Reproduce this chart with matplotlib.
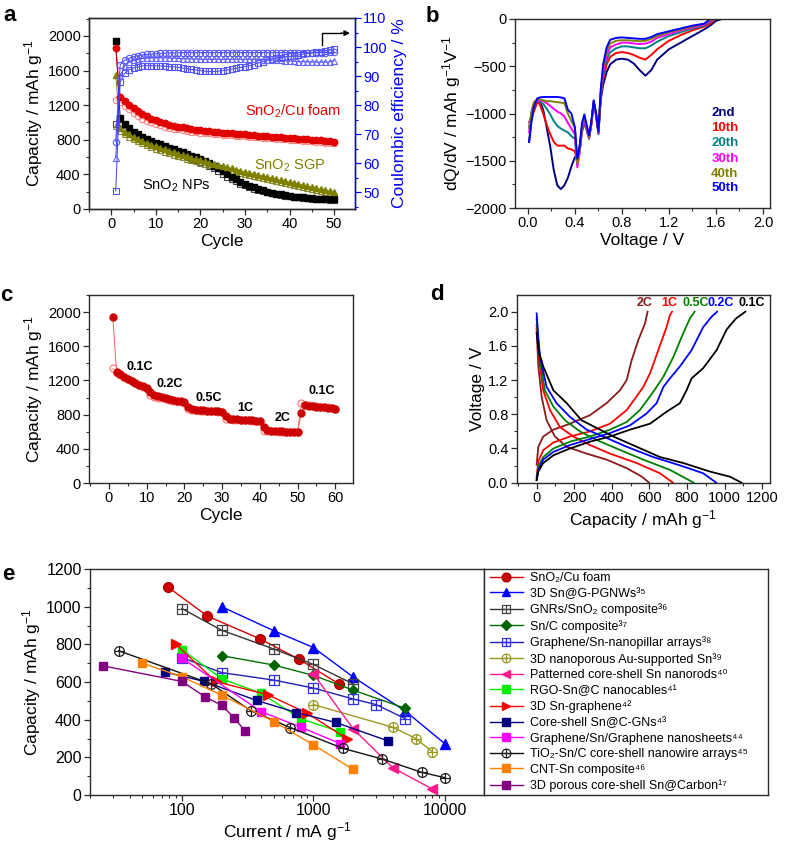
import matplotlib
matplotlib.use('Agg')
import matplotlib.pyplot as plt
from matplotlib.ticker import MultipleLocator, FixedLocator, FormatStrFormatter, NullFormatter, LogLocator, FixedFormatter
from matplotlib.path import Path

plt.rcParams['font.family'] = ['Liberation Sans', 'DejaVu Sans']
plt.rcParams['mathtext.default'] = 'regular'

# ---------------- Panel a data ----------------
cycles_a = list(range(1, 51))
cu_dis = [1860,1290,1245,1205,1165,1130,1100,1070,1045,1025,1005,990,975,963,952,942,933,925,918,911,
          905,899,893,888,883,878,873,869,865,861,857,853,849,845,841,837,833,829,825,821,
          817,813,809,805,801,797,793,788,782,772]
cu_ch = [1260,1235,1190,1150,1110,1075,1045,1020,1000,982,966,952,940,929,919,910,902,895,889,883,
         878,873,868,864,860,856,852,848,844,840,836,832,828,824,820,816,812,808,804,800,
         796,792,788,784,780,776,772,768,764,758]
nps_dis = [1940,1050,985,935,895,862,833,808,786,766,746,727,708,690,672,654,636,617,598,578,
           556,530,500,468,435,403,372,343,316,292,270,250,232,216,202,189,178,168,159,151,
           144,138,133,128,124,120,117,114,112,110]
nps_ch = [980,965,925,885,850,820,795,772,751,731,711,692,673,655,637,619,601,582,563,543,
          522,497,468,437,405,375,346,319,294,272,252,234,218,204,191,180,170,161,153,146,
          139,133,128,124,120,116,113,110,108,106]
sgp_dis = [1550,935,895,862,833,808,786,765,745,726,708,690,673,656,640,624,608,593,578,563,
           549,535,521,507,494,481,468,455,442,430,418,406,394,382,370,358,346,334,322,310,
           298,287,275,264,252,241,229,218,206,195]
sgp_ch = [960,905,868,835,806,781,759,738,718,699,681,663,646,629,613,597,581,566,551,536,
          522,508,494,480,467,454,441,428,415,403,391,379,367,355,343,331,319,307,296,284,
          272,261,249,238,226,215,203,192,180,170]
ce_cu = [67.5,94.0,95.5,96.2,96.7,97.0,97.3,97.5,97.6,97.7,97.8,97.9,98.0,98.0,98.0,98.1,98.1,98.1,98.1,98.1,
         98.1,98.1,98.1,98.1,98.1,98.1,98.1,98.1,98.1,98.1,98.1,98.1,98.1,98.1,98.1,98.1,98.1,98.1,98.1,98.1,
         98.1,98.1,98.1,98.1,98.1,98.1,98.1,98.1,98.2,98.3]
ce_nps = [50.5,88.0,91.0,92.2,92.8,93.2,93.5,93.6,93.6,93.6,93.5,93.4,93.3,93.2,93.0,92.8,92.6,92.3,92.1,91.9,
          91.7,91.6,91.6,91.7,91.9,92.1,92.4,92.7,93.0,93.3,93.6,94.0,94.5,95.0,95.5,95.9,96.2,96.4,96.6,96.8,
          97.0,97.3,97.6,97.8,98.0,98.2,98.3,98.6,99.0,99.3]
ce_sgp = [62.0,90.0,93.5,94.8,95.5,95.9,96.1,96.2,96.3,96.3,96.3,96.3,96.2,96.2,96.1,96.0,96.0,95.9,95.9,95.8,
          95.8,95.8,95.8,95.8,95.8,95.8,95.8,95.8,95.8,95.8,95.8,95.8,95.8,95.7,95.7,95.6,95.5,95.4,95.3,95.2,
          95.1,95.0,95.0,94.9,94.9,94.8,94.8,94.8,95.0,95.3]

# ---------------- Panel b data ----------------
volt_b = [0.01,0.03,0.05,0.08,0.10,0.13,0.16,0.19,0.22,0.25,0.28,0.31,0.34,0.37,0.40,0.42,
          0.44,0.46,0.48,0.50,0.52,0.54,0.56,0.58,0.60,0.62,0.64,0.67,0.70,0.75,
          0.80,0.85,0.90,0.95,1.00,1.05,1.10,1.20,1.30,1.40,1.50,1.55,1.60,1.65,1.80,1.95]
dqdv_2nd = [-1300,-1080,-950,-870,-870,-960,-1150,-1350,-1600,-1760,-1800,-1760,-1680,-1560,-1460,-1470,
            -1350,-1150,-1050,-1150,-1250,-1100,-880,-1000,-1200,-850,-700,-560,-480,-430,
            -420,-430,-470,-540,-600,-540,-430,-320,-250,-180,-110,-70,-20,0,0,0]
dqdv_10th = [-1090,-1050,-980,-880,-900,-1000,-1120,-1220,-1300,-1340,-1340,-1340,-1370,-1380,-1400,-1520,
             -1400,-1200,-1100,-1180,-1260,-1120,-880,-1020,-1210,-820,-640,-480,-400,-360,
             -350,-360,-380,-410,-430,-380,-320,-230,-170,-120,-80,-50,0,0,0,0]
dqdv_20th = [-1150,-1000,-900,-870,-870,-900,-950,-1010,-1080,-1130,-1160,-1180,-1200,-1240,-1270,-1540,
             -1400,-1170,-1080,-1170,-1270,-1110,-870,-1020,-1220,-800,-600,-430,-350,-310,
             -290,-290,-300,-310,-310,-280,-240,-180,-140,-100,-70,-30,0,0,0,0]
dqdv_30th = [-1200,-1000,-900,-870,-860,-870,-890,-920,-950,-980,-1000,-1030,-1100,-1160,-1220,-1570,
             -1420,-1150,-1060,-1160,-1260,-1100,-870,-1020,-1210,-780,-560,-380,-300,-270,
             -250,-250,-260,-265,-260,-240,-200,-160,-120,-90,-60,-20,0,0,0,0]
dqdv_40th = [-1150,-980,-880,-850,-850,-860,-870,-870,-875,-880,-885,-890,-1000,-1080,-1150,-1530,
             -1400,-1130,-1040,-1140,-1250,-1090,-870,-1010,-1200,-760,-520,-340,-260,-230,
             -225,-225,-230,-235,-230,-210,-180,-140,-110,-80,-50,-10,0,0,0,0]
dqdv_50th = [-1300,-1080,-930,-840,-830,-825,-825,-825,-825,-825,-830,-840,-960,-1000,-1150,-1480,
             -1350,-1100,-1010,-1120,-1230,-1080,-860,-1000,-1190,-740,-480,-300,-220,-200,
             -195,-200,-205,-210,-210,-190,-160,-130,-100,-70,-50,0,0,0,0,0]
b_labels = ['2nd', '10th', '20th', '30th', '40th', '50th']

# ---------------- Panel c data ----------------
cycles_c = list(range(1, 61))
rate_dis = [1940,1300,1272,1245,1222,1198,1175,1152,1130,1108, 1065,1035,1015,1002,990,980,970,962,955,945,
            890,862,856,852,849,846,843,840,837,830, 780,752,747,744,741,739,736,733,730,725,
            650,615,611,608,606,604,602,600,598,595, 823,910,905,900,895,890,885,880,875,862]
rate_ch = [1340,1290,1262,1236,1212,1190,1168,1147,1126,1105, 1030,1010,998,990,982,973,965,958,950,940,
           862,852,850,847,845,842,840,837,834,828, 745,744,742,740,738,736,733,731,728,722,
           613,607,605,603,601,599,597,596,594,592, 940,915,910,905,900,895,890,885,880,870]
rate_labels = ['0.1C', '0.2C', '0.5C', '1C', '2C', '0.1C']

# ---------------- Panel d data ----------------
d_rates = ['2C', '1C', '0.5C', '0.2C', '0.1C']
dis_cap_01 = [0, 10, 35, 89, 160, 239, 337, 408, 532, 656, 780, 922, 1028, 1090]
dis_v_01 = [1.75, 1.55, 1.36, 1.08, 0.93, 0.73, 0.62, 0.54, 0.42, 0.30, 0.23, 0.13, 0.07, 0.0]
dis_cap_02 = [0, 9, 18, 53, 106, 177, 266, 355, 479, 620, 780, 886, 955]
dis_v_02 = [1.98, 1.70, 1.47, 1.12, 0.93, 0.77, 0.62, 0.54, 0.42, 0.30, 0.19, 0.11, 0.0]
dis_cap_05 = [0, 9, 18, 44, 89, 151, 230, 319, 425, 567, 709, 835]
dis_v_05 = [1.92, 1.65, 1.43, 1.08, 0.89, 0.73, 0.60, 0.50, 0.40, 0.27, 0.15, 0.0]
dis_cap_1 = [0, 9, 18, 35, 71, 124, 195, 284, 390, 532, 656, 725]
dis_v_1 = [1.85, 1.55, 1.36, 1.08, 0.85, 0.65, 0.54, 0.44, 0.34, 0.23, 0.11, 0.0]
dis_cap_2 = [0, 5, 9, 27, 53, 97, 160, 266, 372, 479, 560, 598]
dis_v_2 = [1.80, 1.55, 1.36, 1.00, 0.73, 0.54, 0.42, 0.34, 0.27, 0.17, 0.07, 0.0]
ch_cap_01 = [0, 9, 35, 89, 177, 284, 390, 496, 603, 691, 762, 797, 824, 886, 957, 1010, 1060, 1110]
ch_v_01 = [0.03, 0.13, 0.23, 0.32, 0.40, 0.48, 0.54, 0.62, 0.69, 0.83, 0.93, 1.08, 1.22, 1.34, 1.55, 1.79, 1.92, 2.0]
ch_cap_02 = [0, 9, 35, 89, 177, 284, 390, 496, 585, 638, 674, 709, 762, 824, 886, 930, 960]
ch_v_02 = [0.03, 0.15, 0.27, 0.36, 0.44, 0.51, 0.58, 0.67, 0.81, 0.93, 1.12, 1.22, 1.36, 1.55, 1.82, 1.94, 2.0]
ch_cap_05 = [0, 9, 35, 89, 177, 284, 390, 479, 549, 603, 638, 674, 727, 780, 815, 840]
ch_v_05 = [0.05, 0.19, 0.30, 0.40, 0.48, 0.54, 0.62, 0.71, 0.85, 1.01, 1.12, 1.24, 1.47, 1.75, 1.92, 2.0]
ch_cap_1 = [0, 9, 35, 89, 177, 284, 390, 479, 532, 567, 603, 647, 691, 709, 720]
ch_v_1 = [0.07, 0.25, 0.38, 0.47, 0.54, 0.60, 0.69, 0.85, 1.01, 1.12, 1.28, 1.55, 1.82, 1.96, 2.0]
ch_cap_2 = [0, 9, 35, 89, 177, 284, 372, 443, 479, 505, 541, 576, 590]
ch_v_2 = [0.21, 0.42, 0.54, 0.62, 0.69, 0.79, 0.93, 1.08, 1.20, 1.43, 1.67, 1.86, 2.0]

# ---------------- Panel e data ----------------
e_names = ['SnO\u2082/Cu foam', '3D Sn@G-PGNWs\u00b3\u2075', 'GNRs/SnO\u2082 composite\u00b3\u2076',
           'Sn/C composite\u00b3\u2077', 'Graphene/Sn-nanopillar arrays\u00b3\u2078',
           '3D nanoporous Au-supported Sn\u00b3\u2079', 'Patterned core-shell Sn nanorods\u2074\u2070',
           'RGO-Sn@C nanocables\u2074\u00b9', '3D Sn-graphene\u2074\u00b2', 'Core-shell Sn@C-GNs\u2074\u00b3',
           'Graphene/Sn/Graphene nanosheets\u2074\u2074', 'TiO\u2082-Sn/C core-shell nanowire arrays\u2074\u2075',
           'CNT-Sn composite\u2074\u2076', '3D porous core-shell Sn@Carbon\u00b9\u2077']
e_cur = [[78, 156, 390, 780, 1560],
         [200, 500, 1000, 2000, 5000, 10000],
         [100, 200, 500, 1000, 2000],
         [200, 500, 1000, 2000, 5000],
         [100, 200, 500, 1000, 2000, 3000, 5000],
         [1000, 4000, 6000, 8000],
         [1000, 2000, 4000, 8000],
         [100, 200, 400, 800, 1600],
         [90, 180, 450, 900, 1800],
         [75, 148, 370, 740, 1480, 3700],
         [100, 400, 800, 1600],
         [33, 167, 333, 667, 1670, 3330, 6670, 10000],
         [50, 100, 200, 500, 1000, 2000],
         [25, 100, 150, 200, 250, 300]]
e_cap = [[1105, 950, 830, 720, 590],
         [1000, 872, 783, 627, 445, 272],
         [990, 875, 775, 693, 590],
         [740, 690, 635, 557, 460],
         [730, 650, 610, 568, 510, 480, 405],
         [480, 360, 300, 230],
         [643, 352, 145, 32],
         [772, 618, 540, 405, 335],
         [800, 603, 532, 434, 298],
         [652, 603, 502, 438, 385, 287],
         [727, 443, 360, 273],
         [766, 590, 448, 358, 248, 191, 120, 92],
         [700, 628, 530, 390, 266, 136],
         [686, 603, 521, 477, 409, 342]]

# ---------------- styling helpers ----------------
fig = plt.figure(figsize=(7.87, 8.43), dpi=100)
SP = '#2b2b2b'
TICK_FS = 10.5
LAB_FS = 12.5


def style(ax):
    for s in ax.spines.values():
        s.set_linewidth(1.0)
        s.set_color(SP)
    ax.tick_params(which='both', direction='out', top=False, right=False, colors=SP, labelcolor='black')
    ax.tick_params(which='major', length=4, width=0.9, labelsize=TICK_FS, pad=2)
    ax.tick_params(which='minor', length=2.3, width=0.8)


def fpos(l, t, r, b):
    W, H = 787.0, 843.0
    return [l / W, 1 - b / H, (r - l) / W, (b - t) / H]

# markers with a plus inside
sq_plus = Path([(-1, -1), (1, -1), (1, 1), (-1, 1), (-1, -1), (0, -1), (0, 1), (-1, 0), (1, 0)],
               [Path.MOVETO, Path.LINETO, Path.LINETO, Path.LINETO, Path.CLOSEPOLY,
                Path.MOVETO, Path.LINETO, Path.MOVETO, Path.LINETO])
circ_plus = Path.make_compound_path(Path.unit_circle(),
                                    Path([(0, -1), (0, 1)], [Path.MOVETO, Path.LINETO]),
                                    Path([(-1, 0), (1, 0)], [Path.MOVETO, Path.LINETO]))

# ================= Panel a =================
axa = fig.add_axes(fpos(89, 18, 355, 209))
style(axa)
ms = 4.6
axa.plot(cycles_a, nps_ch, 's-', color='#555555', mfc='none', mec='#444444', ms=ms, lw=0.7, mew=0.8)
axa.plot(cycles_a, sgp_ch, '^-', color='#9a9a40', mfc='none', mec='#8a8a30', ms=ms, lw=0.7, mew=0.8)
axa.plot(cycles_a, cu_ch, 'o-', color='#ff9090', mfc='none', mec='#ff8080', ms=ms, lw=0.7, mew=0.8)
axa.plot(cycles_a, nps_dis, 's-', color='black', ms=ms, lw=0.7)
axa.plot(cycles_a, sgp_dis, '^-', color='#808000', ms=ms + 0.4, lw=0.7)
axa.plot(cycles_a, cu_dis, 'o-', color='#e00000', ms=ms, lw=0.7)
axa.set_xlim(-5, 54.7)
axa.set_ylim(0, 2207)
axa.xaxis.set_major_locator(MultipleLocator(10))
axa.xaxis.set_minor_locator(MultipleLocator(5))
axa.yaxis.set_major_locator(MultipleLocator(400))
axa.yaxis.set_minor_locator(MultipleLocator(200))
axa.set_xlabel('Cycle', fontsize=LAB_FS, labelpad=2)
axa.set_ylabel('Capacity / mAh g$^{-1}$', fontsize=LAB_FS, labelpad=2)
axa.text(40.7, 1126, 'SnO$_2$/Cu foam', color='#e00000', fontsize=10.5, ha='center', va='center')
axa.text(40.0, 503, 'SnO$_2$ SGP', color='#808000', fontsize=10.5, ha='center', va='center')
axa.text(14.5, 272, 'SnO$_2$ NPs', color='black', fontsize=10.5, ha='center', va='center')

axa2 = axa.twinx()
axa2.plot(cycles_a, ce_nps, 's-', color='#4040ff', mfc='none', mec='#5555ff', ms=ms, lw=0.7, mew=0.8)
axa2.plot(cycles_a, ce_sgp, '^-', color='#4040ff', mfc='none', mec='#6666ff', ms=ms, lw=0.7, mew=0.8)
axa2.plot(cycles_a, ce_cu, 'o-', color='#4040ff', mfc='none', mec='#5555ff', ms=ms, lw=0.7, mew=0.8)
axa2.set_ylim(44.3, 110)
axa2.yaxis.set_major_locator(MultipleLocator(10))
axa2.yaxis.set_minor_locator(MultipleLocator(5))
for s in axa2.spines.values():
    s.set_linewidth(1.0)
    s.set_color(SP)
axa2.spines['right'].set_color('#0000ff')
axa2.tick_params(which='both', direction='out', colors='#0000ff', labelcolor='#0000ff')
axa2.tick_params(which='major', length=4, width=0.9, labelsize=TICK_FS, pad=2)
axa2.tick_params(which='minor', length=2.3, width=0.8)
axa2.set_ylabel('Coulombic efficiency / %', color='#0000ff', fontsize=LAB_FS, labelpad=3)
axa2.plot([47.2, 47.2, 51.5], [100.8, 104.8, 104.8], color='black', lw=1.0)
axa2.annotate('', xy=(54.2, 104.8), xytext=(51.0, 104.8),
              arrowprops=dict(arrowstyle='-|>', color='black', lw=1.0, mutation_scale=8))

# ================= Panel b =================
axb = fig.add_axes(fpos(515, 19, 770, 208))
style(axb)
b_series = [dqdv_2nd, dqdv_10th, dqdv_20th, dqdv_30th, dqdv_40th, dqdv_50th]
b_colors = ['#000080', '#ff0000', '#008080', '#ff00ff', '#808000', '#0000ff']
for ser, col in zip(b_series, b_colors):
    axb.plot(volt_b, ser, color=col, lw=1.4)
axb.set_xlim(-0.11, 2.06)
axb.set_ylim(-2000, 0)
axb.xaxis.set_major_locator(MultipleLocator(0.4))
axb.xaxis.set_minor_locator(MultipleLocator(0.2))
axb.xaxis.set_major_formatter(FormatStrFormatter('%.1f'))
axb.yaxis.set_major_locator(MultipleLocator(500))
axb.yaxis.set_minor_locator(MultipleLocator(250))
axb.set_xlabel('Voltage / V', fontsize=LAB_FS, labelpad=2)
axb.set_ylabel('dQ/dV / mAh g$^{-1}$V$^{-1}$', fontsize=LAB_FS, labelpad=2)
b_text_y = [-998, -1150, -1315, -1485, -1640, -1792]
for lab, col, yy in zip(b_labels, b_colors, b_text_y):
    axb.text(1.56, yy, lab, color=col, fontsize=9.5, fontweight='bold', ha='left', va='center')

# ================= Panel c =================
axc = fig.add_axes(fpos(89, 295, 353, 483))
style(axc)
axc.plot(cycles_c, rate_ch, 'o-', color='#ff8080', mfc='none', mec='#ff7070', ms=5, lw=0.7, mew=0.8)
axc.plot(cycles_c, rate_dis, 'o-', color='#ff6060', mfc='#cc0000', mec='#cc0000', ms=5, lw=0.7)
axc.set_xlim(-5.3, 64.7)
axc.set_ylim(0, 2200)
axc.xaxis.set_major_locator(MultipleLocator(10))
axc.xaxis.set_minor_locator(MultipleLocator(5))
axc.yaxis.set_major_locator(MultipleLocator(400))
axc.yaxis.set_minor_locator(MultipleLocator(200))
axc.set_xlabel('Cycle', fontsize=LAB_FS, labelpad=2)
axc.set_ylabel('Capacity / mAh g$^{-1}$', fontsize=LAB_FS, labelpad=2)
c_text_pos = [(4.7, 1355), (12.7, 1157), (22.9, 998), (34.0, 881), (44.0, 761), (53.0, 1076)]
for lab, (xx, yy) in zip(rate_labels, c_text_pos):
    axc.text(xx, yy, lab, fontsize=9, fontweight='bold', ha='left', va='center')

# ================= Panel d =================
axd = fig.add_axes(fpos(516.7, 295, 770, 482.7))
style(axd)
d_colors = ['#8b1a1a', '#ff0000', '#008000', '#0000ff', '#000000']
dis_caps = [dis_cap_2, dis_cap_1, dis_cap_05, dis_cap_02, dis_cap_01]
dis_vs = [dis_v_2, dis_v_1, dis_v_05, dis_v_02, dis_v_01]
ch_caps = [ch_cap_2, ch_cap_1, ch_cap_05, ch_cap_02, ch_cap_01]
ch_vs = [ch_v_2, ch_v_1, ch_v_05, ch_v_02, ch_v_01]
for dc, dv, cc, cv, col in zip(dis_caps, dis_vs, ch_caps, ch_vs, d_colors):
    axd.plot(dc, dv, color=col, lw=1.3)
    axd.plot(cc, cv, color=col, lw=1.3)
axd.set_xlim(-106, 1241)
axd.set_ylim(0, 2.195)
axd.xaxis.set_major_locator(MultipleLocator(200))
axd.xaxis.set_minor_locator(MultipleLocator(100))
axd.yaxis.set_major_locator(MultipleLocator(0.4))
axd.yaxis.set_minor_locator(MultipleLocator(0.2))
axd.yaxis.set_major_formatter(FormatStrFormatter('%.1f'))
axd.set_xlabel('Capacity / mAh g$^{-1}$', fontsize=LAB_FS, labelpad=2)
axd.set_ylabel('Voltage / V', fontsize=LAB_FS, labelpad=2)
d_text_x = [576, 704, 847, 978, 1143]
for lab, col, xx in zip(d_rates, d_colors, d_text_x):
    axd.text(xx, 2.10, lab, color=col, fontsize=9, fontweight='bold', ha='center', va='center')

# ================= Panel e =================
axe = fig.add_axes(fpos(90, 569, 484, 795))
style(axe)
e_styles = [
    dict(marker='o', color='#dd0000', mfc='#cc0000', mec='#aa0000', ms=7),
    dict(marker='^', color='#0000ff', mfc='#0000ff', mec='#0000ff', ms=7),
    dict(marker=sq_plus, color='#333333', mfc='none', mec='#444444', ms=7, mew=0.9),
    dict(marker='D', color='#007000', mfc='#006400', mec='#006400', ms=5.5),
    dict(marker=sq_plus, color='#2020b0', mfc='none', mec='#3333dd', ms=7, mew=0.9),
    dict(marker=circ_plus, color='#999922', mfc='none', mec='#999922', ms=7, mew=0.9),
    dict(marker='<', color='#ff1a8c', mfc='#ff1a8c', mec='#ff1a8c', ms=7),
    dict(marker='s', color='#00ee00', mfc='#00ee00', mec='#00ee00', ms=6),
    dict(marker='>', color='#ff0000', mfc='#ff0000', mec='#ff0000', ms=7),
    dict(marker='s', color='#000080', mfc='#000080', mec='#000080', ms=6),
    dict(marker='s', color='#ff00ff', mfc='#ff00ff', mec='#ff00ff', ms=6),
    dict(marker=circ_plus, color='#111111', mfc='none', mec='#222222', ms=7, mew=0.9),
    dict(marker='s', color='#ff7f00', mfc='#ff7f00', mec='#ff7f00', ms=6),
    dict(marker='s', color='#800080', mfc='#800080', mec='#800080', ms=6),
]
handles = []
for xs, ys, st, nm in zip(e_cur, e_cap, e_styles, e_names):
    h, = axe.plot(xs, ys, ls='-', lw=1.0, label=nm, **st)
    handles.append(h)
axe.set_xscale('log')
axe.set_xlim(20, 19800)
axe.set_ylim(0, 1200)
axe.xaxis.set_major_locator(FixedLocator([100, 1000, 10000]))
axe.xaxis.set_major_formatter(FixedFormatter(['100', '1000', '10000']))
axe.xaxis.set_minor_locator(LogLocator(base=10, subs=[2, 3, 4, 5, 6, 7, 8, 9]))
axe.xaxis.set_minor_formatter(NullFormatter())
axe.yaxis.set_major_locator(MultipleLocator(200))
axe.yaxis.set_minor_locator(MultipleLocator(100))
axe.tick_params(which='major', labelsize=11.5)
axe.set_xlabel('Current / mA g$^{-1}$', fontsize=LAB_FS, labelpad=1)
axe.set_ylabel('Capacity / mAh g$^{-1}$', fontsize=LAB_FS, labelpad=2)

axl = fig.add_axes(fpos(484, 569, 768, 795))
axl.set_xticks([])
axl.set_yticks([])
for s in axl.spines.values():
    s.set_linewidth(1.0)
    s.set_color(SP)
leg = axl.legend(handles=handles, loc='center left', bbox_to_anchor=(0.0, 0.5), frameon=False,
                 fontsize=9.0, handlelength=2.6, handletextpad=0.55, labelspacing=0.29,
                 borderaxespad=0.3, borderpad=0.2, markerscale=0.9)

# ================= panel letters =================
for lt, x, y in [('a', 3, 21), ('b', 426, 21.5), ('c', 0, 301), ('d', 430, 300), ('e', 2, 580)]:
    fig.text(x / 787.0, 1 - y / 843.0, lt, fontsize=16, fontweight='bold', ha='left', va='baseline')

fig.savefig('out.png', dpi=100)
